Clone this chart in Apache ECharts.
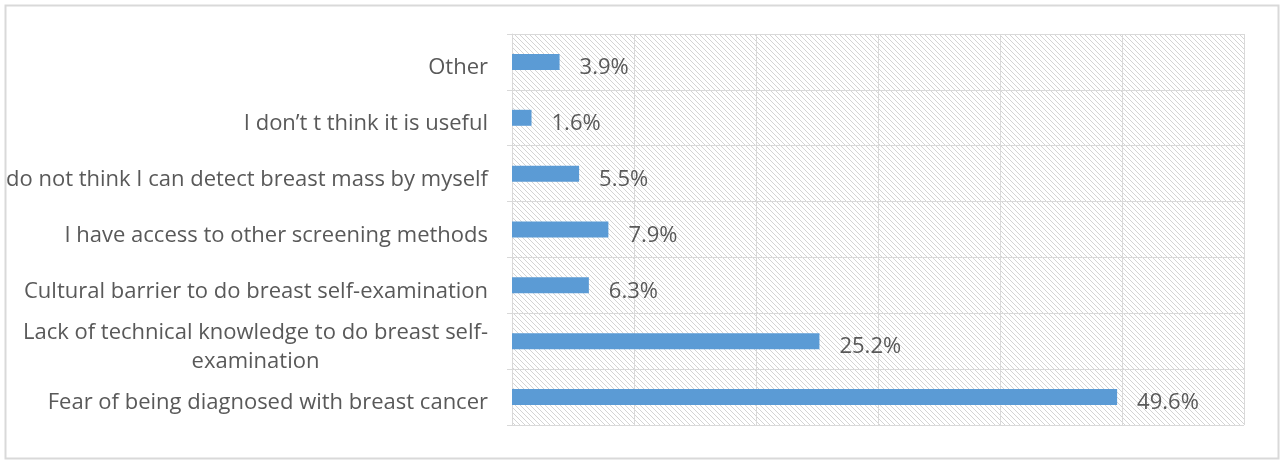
<!DOCTYPE html>
<html>
<head>
<meta charset="utf-8">
<script src="https://cdn.jsdelivr.net/npm/echarts@6/dist/echarts.min.js"></script>
<style>html,body{margin:0;padding:0;background:#fff}#c{width:1280px;height:461px}</style>
</head>
<body>
<div id="c"></div>
<script>
const categories = [
  'Other',
  'I don\u2019t t think it is useful',
  'do not think I can detect breast mass by myself',
  'I have access to other screening methods',
  'Cultural barrier to do breast self-examination',
  'Lack of technical knowledge to do breast self-\nexamination',
  'Fear of being diagnosed with breast cancer'
];
const values = [3.9, 1.6, 5.5, 7.9, 6.3, 25.2, 49.6];
const axisMax = 60;
const axisInterval = 10;

const tile = document.createElement('canvas');
tile.width = 5; tile.height = 5;
const tc = tile.getContext('2d');
tc.fillStyle = '#ffffff'; tc.fillRect(0,0,5,5);
tc.strokeStyle = '#d4d4d4'; tc.lineWidth = 1;
tc.beginPath();
tc.moveTo(-1,-1); tc.lineTo(6,6);
tc.moveTo(-1,4); tc.lineTo(1,6);
tc.moveTo(4,-1); tc.lineTo(6,1);
tc.stroke();

const FONT = 'Open Sans';
const FS = 22;
const chart = echarts.init(document.getElementById('c'));
chart.setOption({
  animation: false,
  backgroundColor: '#fff',
  grid: {left: 512, right: 36, top: 34, bottom: 36, show: true, borderWidth: 0,
         backgroundColor: {image: tile, repeat: 'repeat'}},
  graphic: [{type: 'rect', left: 3, top: 3, shape: {width: 1273, height: 453},
             style: {fill: 'none', stroke: '#d9d9d9', lineWidth: 2}, silent: true}],
  xAxis: {
    type: 'value', min: 0, max: axisMax, interval: axisInterval,
    axisLabel: {show: false}, axisLine: {show: false}, axisTick: {show: false},
    splitLine: {show: true, lineStyle: {color: '#d9d9d9', width: 1}}
  },
  yAxis: {
    type: 'category', inverse: true, data: categories,
    axisLine: {show: true, lineStyle: {color: '#d9d9d9', width: 1}},
    axisTick: {show: true, length: 5, lineStyle: {color: '#d9d9d9'}},
    splitLine: {show: true, lineStyle: {color: '#d9d9d9', width: 1}},
    axisLabel: {
      margin: 24, color: '#595959', fontFamily: FONT, fontSize: FS, lineHeight: 29,
      padding: [12, 0, 0, 0],
      formatter: function (v) {
        if (v.indexOf('\n') >= 0) {
          return v.split('\n').map(s => '{c|' + s + '}').join('\n');
        }
        return v;
      },
      rich: {c: {align: 'center', color: '#595959', fontFamily: FONT, fontSize: FS, lineHeight: 29}}
    }
  },
  series: [{
    type: 'bar', data: values, barWidth: 16,
    itemStyle: {color: '#5B9BD5'},
    label: {show: true, position: 'right', distance: 20, offset: [0, 6], color: '#595959',
            fontFamily: FONT, fontSize: FS,
            formatter: p => p.value.toFixed(1) + '%'}
  }]
});
</script>
</body>
</html>
